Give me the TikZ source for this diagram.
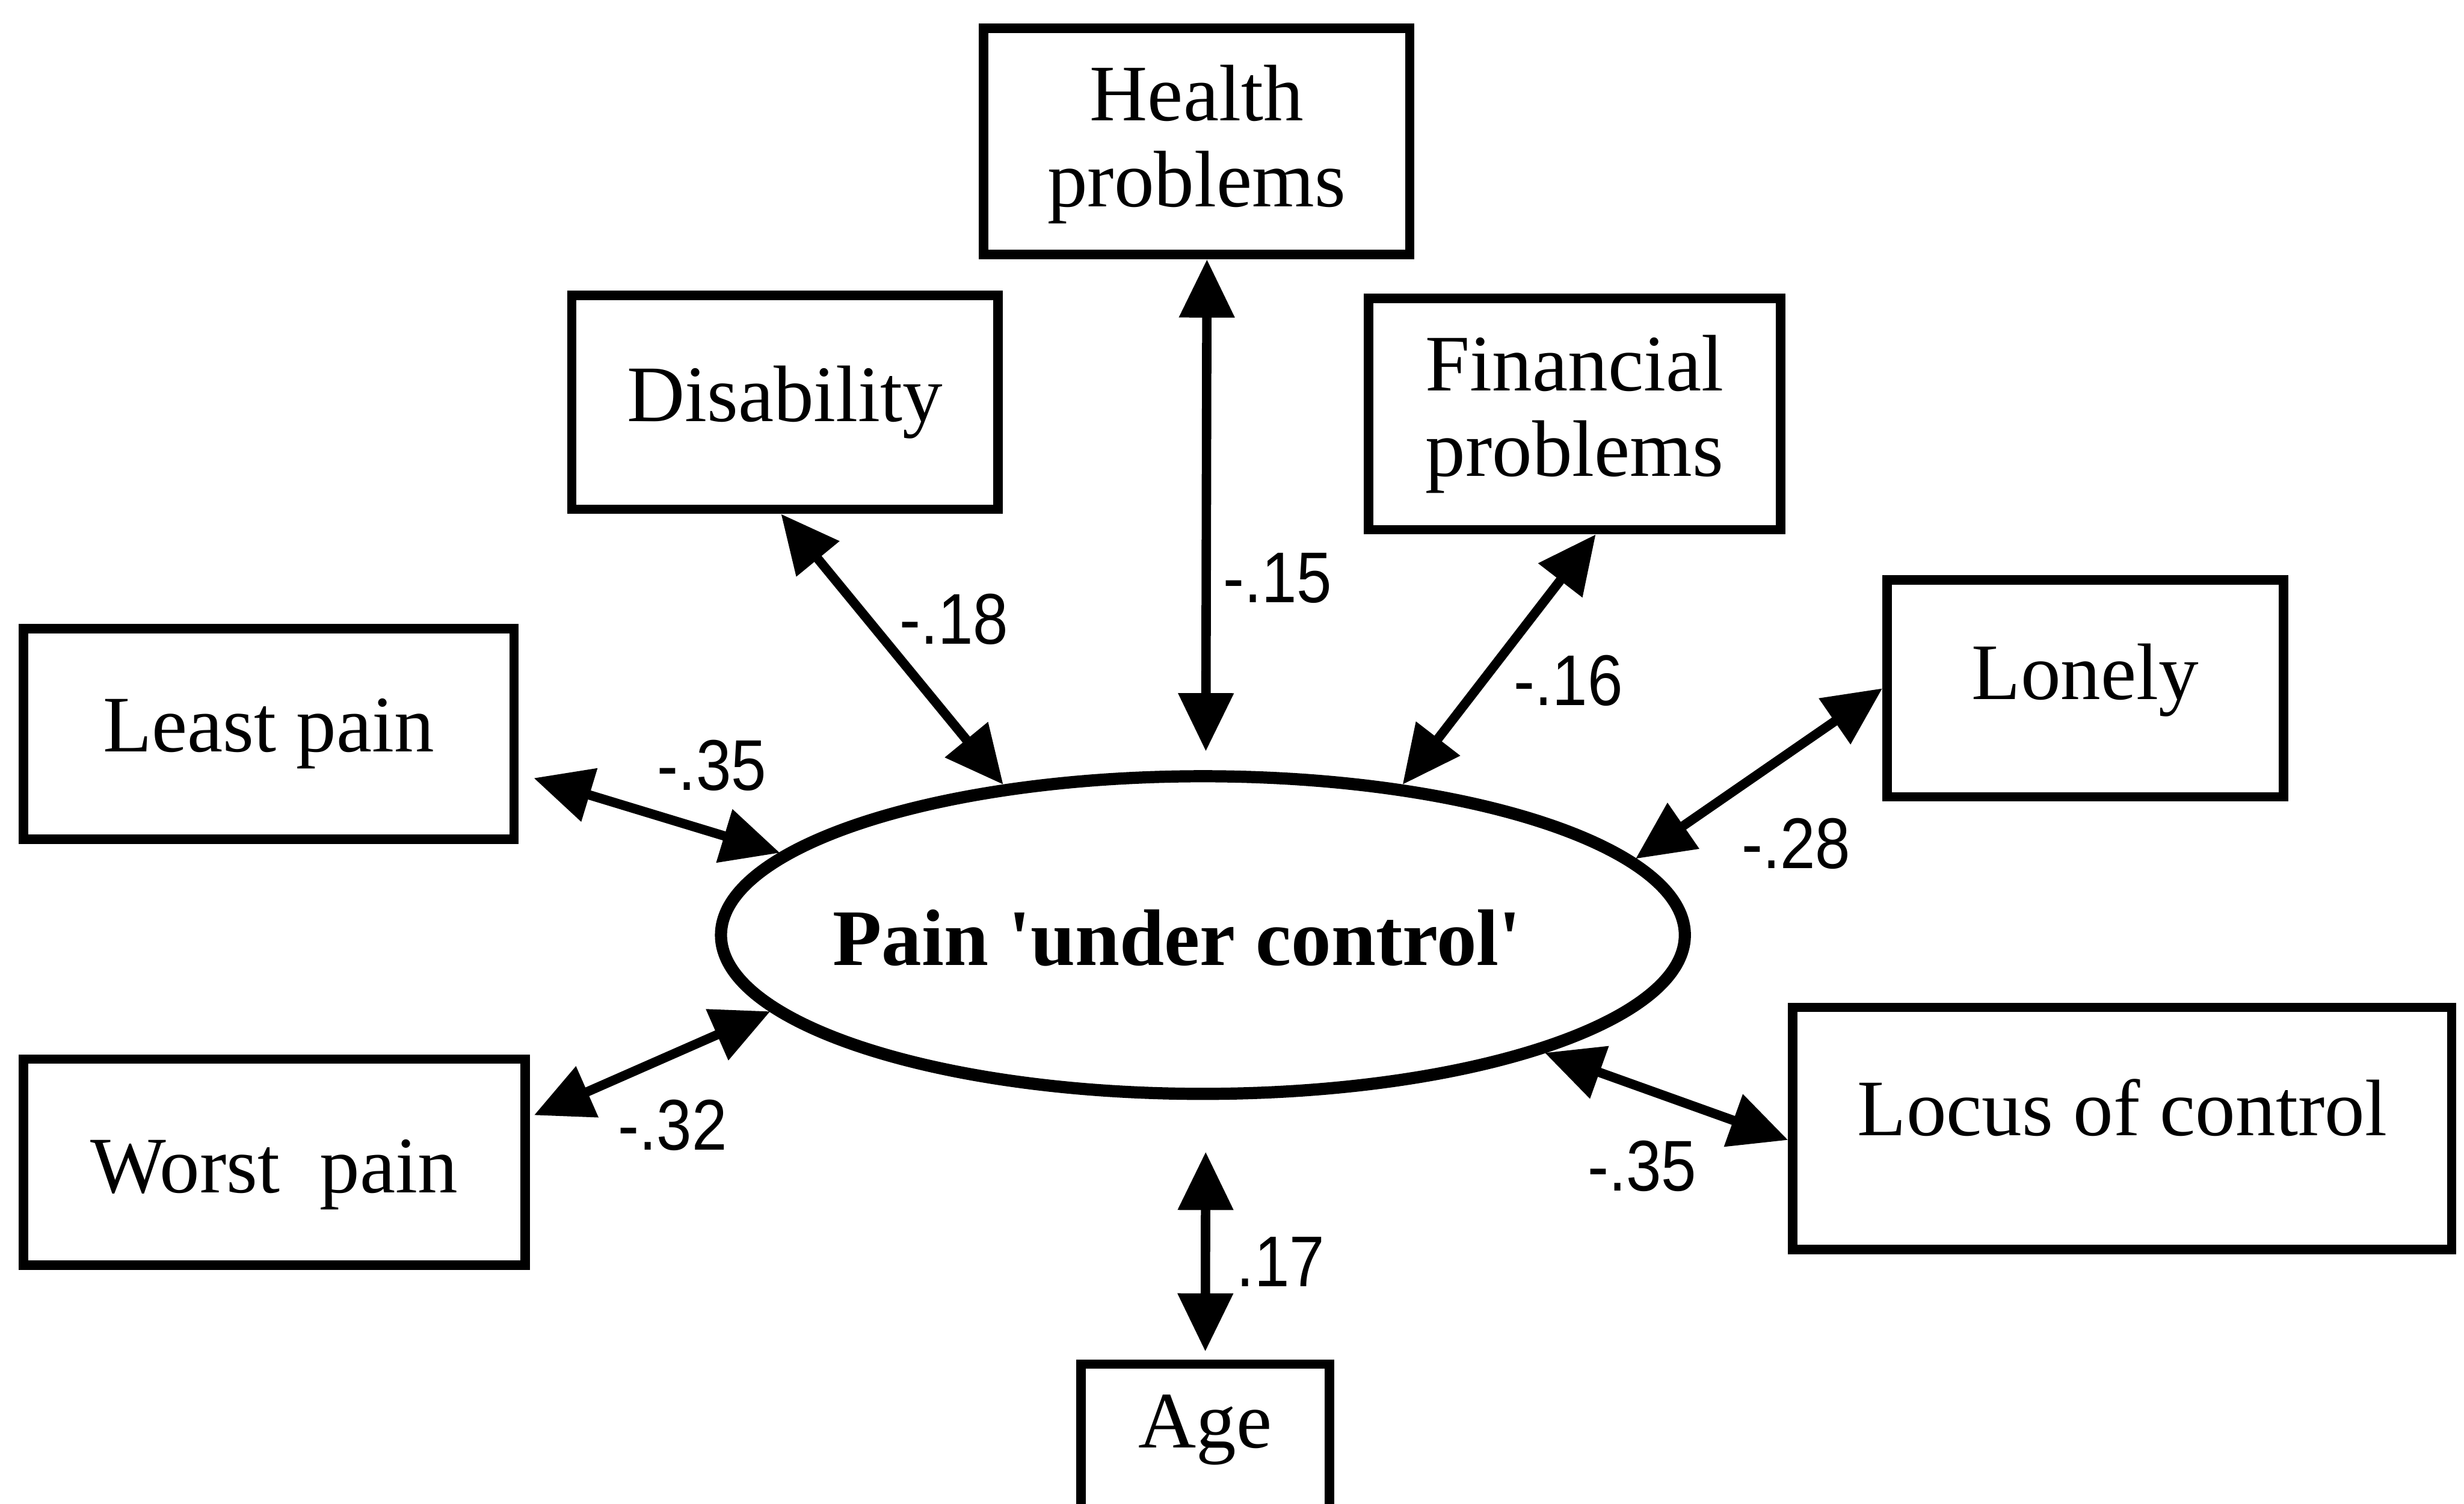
\documentclass[tikz,border=0pt]{standalone}
\usepackage{fontspec}
\setmainfont{Liberation Serif}
\newfontfamily\numfont[FakeStretch=0.88]{Liberation Sans}
\usetikzlibrary{shapes.geometric,arrows.meta}
\begin{document}
\begin{tikzpicture}[x=0.01cm,y=-0.01cm,
  box/.style={draw, line width=1.7pt, rectangle, inner sep=0pt, align=center,
    font=\fontsize{14.5}{15.5}\selectfont},
  latent/.style={draw, ellipse, line width=2.2pt, inner sep=0pt},
  corr/.style={{Triangle[length=3.7mm,width=3.4mm]}-{Triangle[length=3.7mm,width=3.4mm]},
    line width=1.7pt},
  coef/.style={font=\numfont\fontsize{13}{13}\selectfont, inner sep=0pt}
]
\useasboundingbox (0,0) rectangle (1568,957);
\fill[white] (0,0) rectangle (1568,957);

% central latent variable
\node[latent, minimum width=6.13cm, minimum height=2.02cm] (ell) at (765.5,595) {};
\node[font=\bfseries\fontsize{14.5}{15.5}\selectfont, inner sep=0pt] (elltext) at (749,597)
  {Pain \textquotesingle under control\textquotesingle};

% correlates
\node[box, minimum width=2.71cm, minimum height=1.44cm, text depth=0.07cm] (hp) at (761.5,90) {Health\\problems};
\node[box, minimum width=2.71cm, minimum height=1.36cm] (dis) at (499.5,256) {Disability};
\node[box, minimum width=2.62cm, minimum height=1.47cm] (fin) at (1002,263.5) {Financial\\problems};
\node[box, minimum width=3.12cm, minimum height=1.34cm] (lp)  at (171,467)   {Least pain};
\node[box, minimum width=2.52cm, minimum height=1.38cm, text depth=0.21cm] (lon) at (1327,438) {Lonely};
\node[box, minimum width=3.19cm, minimum height=1.31cm, text height=0.50cm] (wp) at (174.5,739.5) {Worst\ \ pain};
\node[box, minimum width=4.19cm, minimum height=1.54cm, text depth=0.27cm] (loc) at (1350.5,718) {Locus of control};
\node[box, minimum width=1.58cm, minimum height=1.40cm, anchor=north] (age) at (767,865) {};
\node[font=\fontsize{14.5}{15.5}\selectfont, inner sep=0pt] (agetext) at (767,910) {Age};

% correlation arrows
\draw[corr, shorten >=0.12cm] (hp.-85) -- (ell.89);
\draw[corr] (dis.-92) -- (ell.143);
\draw[corr] (fin.-80) -- (ell.37.5);
\draw[corr, shorten <=0.1cm] (lp.-9) -- (ell.169.7);
\draw[corr] (lon.west) -- (ell.10.7);
\draw[corr, shorten <=0.03cm] (wp.10) -- (ell.190.6);
\draw[corr] (loc.182) -- (ell.-19);
\draw[corr, shorten <=0.33cm, shorten >=0.05cm] (ell.-89) -- (age.north);

% coefficients
\node[coef] (c15) at (813,368) {-.15};
\node[coef] (c18) at (607,394) {-.18};
\node[coef] (c16) at (998,433) {-.16};
\node[coef] (c35a) at (453,487) {-.35};
\node[coef] (c28) at (1143,537) {-.28};
\node[coef] (c32) at (428,716) {-.32};
\node[coef] (c35b) at (1045,742) {-.35};
\node[coef] (c17) at (815,803) {.17};
\end{tikzpicture}
\end{document}
